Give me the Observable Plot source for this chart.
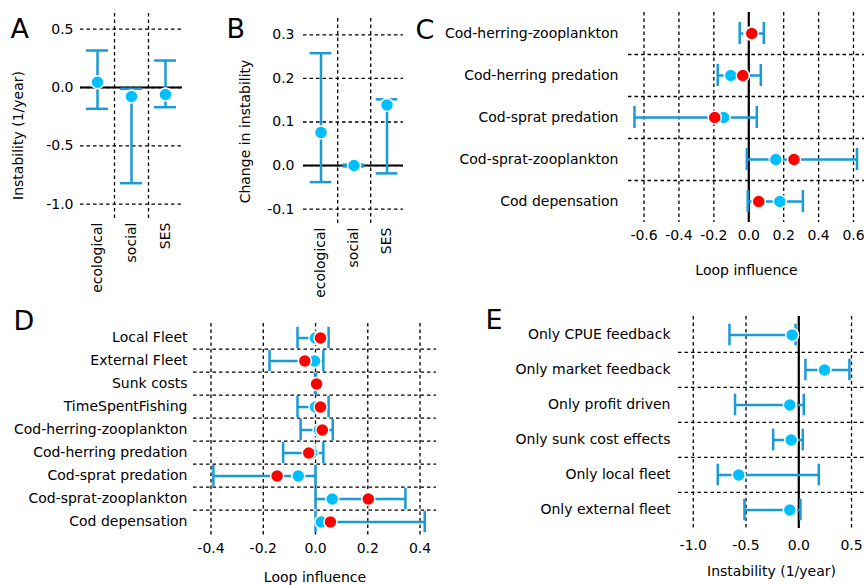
<!DOCTYPE html>
<html><head><meta charset="utf-8">
<script src="https://cdn.jsdelivr.net/npm/d3@7"></script>
<script src="https://cdn.jsdelivr.net/npm/@observablehq/plot@0.6"></script>
<style>
body{margin:0;background:#fff;}
#fig{position:relative;width:864px;height:585px;overflow:hidden;font-family:"DejaVu Sans";}
#fig svg{position:absolute;}
</style></head><body><div id="fig"></div>
<script>
// ---------- data ----------
const catsAB = ["ecological", "social", "SES"];
const aValue = [0.045, -0.077, -0.06];
const aLow   = [-0.183, -0.82, -0.169];
const aHigh  = [0.317, -0.011, 0.231];
const aTicks = [-1, -0.5, 0, 0.5];

const bValue = [0.076, 0.0, 0.139];
const bLow   = [-0.038, -0.002, -0.018];
const bHigh  = [0.258, 0.002, 0.152];
const bTicks = [-0.1, 0, 0.1, 0.2, 0.3];

const loopsC = ["Cod-herring-zooplankton", "Cod-herring predation", "Cod-sprat predation", "Cod-sprat-zooplankton", "Cod depensation"];
const cBlue = [0.01, -0.103, -0.144, 0.155, 0.178];
const cRed  = [0.017, -0.034, -0.195, 0.259, 0.057];
const cLow  = [-0.052, -0.178, -0.655, -0.011, -0.006];
const cHigh = [0.086, 0.069, 0.046, 0.62, 0.31];
const cTicks = [-0.6, -0.4, -0.2, 0, 0.2, 0.4, 0.6];

const loopsD = ["Local Fleet", "External Fleet", "Sunk costs", "TimeSpentFishing", "Cod-herring-zooplankton", "Cod-herring predation", "Cod-sprat predation", "Cod-sprat-zooplankton", "Cod depensation"];
const dBlue = [0.0, -0.004, 0.0, 0.0, 0.015, -0.015, -0.066, 0.064, 0.022];
const dRed  = [0.019, -0.041, 0.004, 0.019, 0.026, -0.026, -0.147, 0.202, 0.057];
const dLow  = [-0.069, -0.176, -0.002, -0.069, -0.057, -0.124, -0.391, 0.0, 0.0];
const dHigh = [0.05, 0.03, 0.002, 0.05, 0.066, 0.03, 0.0, 0.344, 0.418];
const dTicks = [-0.4, -0.2, 0, 0.2, 0.4];

const scenariosE = ["Only CPUE feedback", "Only market feedback", "Only profit driven", "Only sunk cost effects", "Only local fleet", "Only external fleet"];
const eValue = [-0.063, 0.244, -0.085, -0.072, -0.569, -0.085];
const eLow   = [-0.657, 0.063, -0.604, -0.243, -0.768, -0.515];
const eHigh  = [-0.031, 0.48, 0.047, 0.038, 0.19, 0.016];
const eTicks = [-1, -0.5, 0, 0.5];

// ---------- styles ----------
const BAR = "#1a9ad6", PT = "#00bfff", RED = "#ff0000";
const GRID = {stroke: "black", strokeWidth: 1.3, strokeDasharray: "3.5,3"};
const STYLE = {fontFamily: "DejaVu Sans", fontSize: "14px", background: "transparent", overflow: "visible", color: "black"};
const fmt = d => d.toFixed(1);
const fig = document.getElementById("fig");
function place(svg, left, top) { svg.style.left = left + "px"; svg.style.top = top + "px"; fig.appendChild(svg); }
const BW = 2.5;
const letter = (t, dx, dy) => Plot.text([t], {text: d => d, frameAnchor: "top-left", textAnchor: "start", lineAnchor: "bottom", dx, dy, fontSize: 27});
const yLabel = (t, dx, dy) => Plot.text([t], {text: d => d, frameAnchor: "left", textAnchor: "middle", lineAnchor: "middle", rotate: -90, dx, dy, fontSize: 14});
const xLabel = (t, dy) => Plot.text([t], {text: d => d, frameAnchor: "bottom", textAnchor: "middle", lineAnchor: "middle", dy, fontSize: 14});

// ---------- Panel A ----------
const A = catsAB.map((c, i) => ({cat: c, v: aValue[i], lo: aLow[i], hi: aHigh[i]}));
place(Plot.plot({
  width: 200, height: 300, marginLeft: 80, marginRight: 18, marginTop: 13, marginBottom: 80,
  style: STYLE,
  x: {type: "band", domain: catsAB, padding: 0, tickSize: 0, tickPadding: 2, tickRotate: -90, label: null},
  y: {domain: [-1.14, 0.634], ticks: aTicks, tickFormat: fmt, tickSize: 0, tickPadding: 7, label: null},
  marks: [
    Plot.ruleY(aTicks, GRID),
    Plot.ruleX(catsAB.slice(0, 2), {...GRID, dx: 17}),
    Plot.ruleY([0], {stroke: "black", strokeWidth: 2}),
    Plot.ruleX(A, {x: "cat", y1: "lo", y2: "hi", stroke: BAR, strokeWidth: BW}),
    Plot.tickY(A, {x: "cat", y: "lo", stroke: BAR, strokeWidth: BW, insetLeft: 6, insetRight: 6}),
    Plot.tickY(A, {x: "cat", y: "hi", stroke: BAR, strokeWidth: BW, insetLeft: 6, insetRight: 6}),
    Plot.dot(A, {x: "cat", y: "v", r: 6.5, fill: PT, stroke: "white", strokeWidth: 1.5}),
    yLabel("Instability (1/year)", -62, 18.5),
    letter("A", -70, 24)
  ]
}), 0, 0);

// ---------- Panel B ----------
const B = catsAB.map((c, i) => ({cat: c, v: bValue[i], lo: bLow[i], hi: bHigh[i]}));
place(Plot.plot({
  width: 210, height: 300, marginLeft: 93, marginRight: 17, marginTop: 18, marginBottom: 77,
  style: STYLE,
  x: {type: "band", domain: catsAB, padding: 0, tickSize: 0, tickPadding: 4, tickRotate: -90, label: null},
  y: {domain: [-0.133, 0.3375], ticks: bTicks, tickFormat: fmt, tickSize: 0, tickPadding: 9, label: null},
  marks: [
    Plot.ruleY(bTicks, GRID),
    Plot.ruleX(catsAB.slice(0, 2), {...GRID, dx: 16.7}),
    Plot.ruleY([0], {stroke: "black", strokeWidth: 2}),
    Plot.ruleX(B, {x: "cat", y1: "lo", y2: "hi", stroke: BAR, strokeWidth: BW}),
    Plot.tickY(B, {x: "cat", y: "lo", stroke: BAR, strokeWidth: BW, insetLeft: 5.7, insetRight: 5.7}),
    Plot.tickY(B, {x: "cat", y: "hi", stroke: BAR, strokeWidth: BW, insetLeft: 5.7, insetRight: 5.7}),
    Plot.dot(B, {x: "cat", y: "v", r: 6.5, fill: PT, stroke: "white", strokeWidth: 1.5}),
    yLabel("Change in instability", -58, 10.5),
    letter("B", -77, 19)
  ]
}), 210, 0);

// ---------- Panel C ----------
const C = loopsC.map((n, i) => ({n, b: cBlue[i], r: cRed[i], lo: cLow[i], hi: cHigh[i]}));
place(Plot.plot({
  width: 454, height: 290, marginLeft: 218, marginRight: 0, marginTop: 12, marginBottom: 68,
  style: STYLE,
  x: {domain: [-0.689, 0.663], ticks: cTicks, tickFormat: fmt, tickSize: 0, tickPadding: 8, label: null},
  y: {type: "band", domain: loopsC, padding: 0, tickSize: 0, tickPadding: 10, label: null},
  marks: [
    Plot.ruleX(cTicks, GRID),
    Plot.ruleY(loopsC.slice(1), {...GRID, dy: -21}),
    Plot.ruleX([0], {stroke: "black", strokeWidth: 2.2}),
    Plot.ruleY(C, {y: "n", x1: "lo", x2: "hi", stroke: BAR, strokeWidth: BW}),
    Plot.tickX(C, {y: "n", x: "lo", stroke: BAR, strokeWidth: BW, insetTop: 10, insetBottom: 10}),
    Plot.tickX(C, {y: "n", x: "hi", stroke: BAR, strokeWidth: BW, insetTop: 10, insetBottom: 10}),
    Plot.dot(C, {y: "n", x: "b", r: 6.5, fill: PT, stroke: "white", strokeWidth: 1.5}),
    Plot.dot(C, {y: "n", x: "r", r: 6.5, fill: RED, stroke: "white", strokeWidth: 1.5}),
    xLabel("Loop influence", 48),
    letter("C", -213, 26)
  ]
}), 410, 0);

// ---------- Panel D ----------
const D = loopsD.map((n, i) => ({n, b: dBlue[i], r: dRed[i], lo: dLow[i], hi: dHigh[i]}));
place(Plot.plot({
  width: 440, height: 285, marginLeft: 193, marginRight: 4, marginTop: 23, marginBottom: 50,
  style: STYLE,
  x: {domain: [-0.467, 0.463], ticks: dTicks, tickFormat: fmt, tickSize: 0, tickPadding: 8, label: null},
  y: {type: "band", domain: loopsD, padding: 0, tickSize: 0, tickPadding: 6, label: null},
  marks: [
    Plot.ruleX(dTicks, GRID),
    Plot.ruleY(loopsD.slice(1), {...GRID, dy: -11.78}),
    Plot.ruleY(D, {y: "n", x1: "lo", x2: "hi", stroke: BAR, strokeWidth: BW}),
    Plot.tickX(D, {y: "n", x: "lo", stroke: BAR, strokeWidth: BW, insetTop: 0.8, insetBottom: 0.8}),
    Plot.tickX(D, {y: "n", x: "hi", stroke: BAR, strokeWidth: BW, insetTop: 0.8, insetBottom: 0.8}),
    Plot.dot(D, {y: "n", x: "b", r: 6.5, fill: PT, stroke: "white", strokeWidth: 1.5}),
    Plot.dot(D, {y: "n", x: "r", r: 6.5, fill: RED, stroke: "white", strokeWidth: 1.5}),
    xLabel("Loop influence", 42),
    letter("D", -180, 6)
  ]
}), 0, 300);

// ---------- Panel E ----------
const E = scenariosE.map((n, i) => ({n, v: eValue[i], lo: eLow[i], hi: eHigh[i]}));
place(Plot.plot({
  width: 394, height: 285, marginLeft: 208, marginRight: 0, marginTop: 16, marginBottom: 57,
  style: STYLE,
  x: {domain: [-1.14, 0.623], ticks: eTicks, tickFormat: fmt, tickSize: 0, tickPadding: 12, label: null},
  y: {type: "band", domain: scenariosE, padding: 0, tickSize: 0, tickPadding: 8, label: null},
  marks: [
    Plot.ruleX(eTicks, GRID),
    Plot.ruleY(scenariosE.slice(1), {...GRID, dy: -17.67}),
    Plot.ruleX([0], {stroke: "black", strokeWidth: 2.2}),
    Plot.ruleY(E, {y: "n", x1: "lo", x2: "hi", stroke: BAR, strokeWidth: BW}),
    Plot.tickX(E, {y: "n", x: "lo", stroke: BAR, strokeWidth: BW, insetTop: 6.7, insetBottom: 6.7}),
    Plot.tickX(E, {y: "n", x: "hi", stroke: BAR, strokeWidth: BW, insetTop: 6.7, insetBottom: 6.7}),
    Plot.dot(E, {y: "n", x: "v", r: 6.5, fill: PT, stroke: "white", strokeWidth: 1.5}),
    xLabel("Instability (1/year)", 43),
    letter("E", -193, 12)
  ]
}), 470, 300);
</script></body></html>
